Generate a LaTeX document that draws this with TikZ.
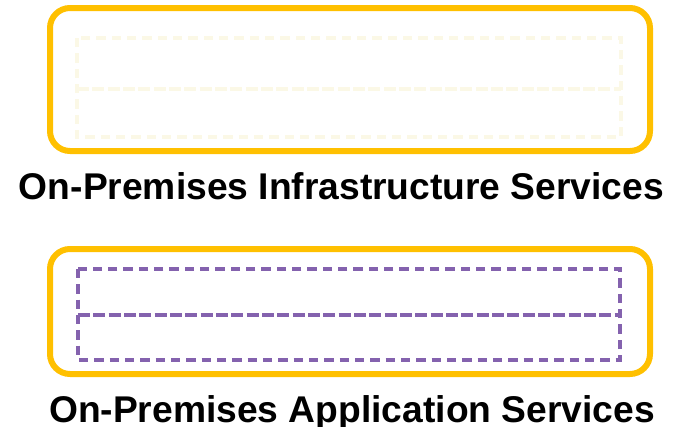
\documentclass[tikz,border=0pt]{standalone}
\usepackage{fontspec}
\setmainfont{Liberation Sans}
\definecolor{frameyellow}{HTML}{FFC000}
\definecolor{paleyellow}{HTML}{FBF8E6}
\definecolor{layerpurple}{HTML}{8462AE}
\tikzset{
  tierframe/.style={line width=4.5pt, draw=frameyellow, rounded corners=15pt},
  layerbox/.style={line width=2.6pt, dash pattern=on 7pt off 4.5pt},
  layersplit/.style={line width=2.6pt, dash pattern=on 9pt off 2.5pt},
  tiertitle/.style={font=\fontsize{27.9}{30}\selectfont\bfseries, anchor=base}
}
\begin{document}
\begin{tikzpicture}[x=0.75pt, y=-0.75pt]
    \useasboundingbox (0,0) rectangle (686,426);
    % Infrastruktur
    \draw[tierframe] (50,8) rectangle (650,151);
    \draw[layerbox, draw=paleyellow] (77,38) rectangle (621,137);
    \draw[layersplit, draw=paleyellow] (77,89) -- (621,89);
    \node[tiertitle] (infra) at (341.5,199) {On-Premises Infrastructure Services};
    % Anwendungen
    \draw[tierframe] (50,249) rectangle (650,374);
    \draw[layerbox, draw=layerpurple] (78,269) rectangle (620,360);
    \draw[layersplit, draw=layerpurple] (78,315) -- (620,315);
    \node[tiertitle] (apps) at (352,422) {On-Premises Application Services};
\end{tikzpicture}
\end{document}
